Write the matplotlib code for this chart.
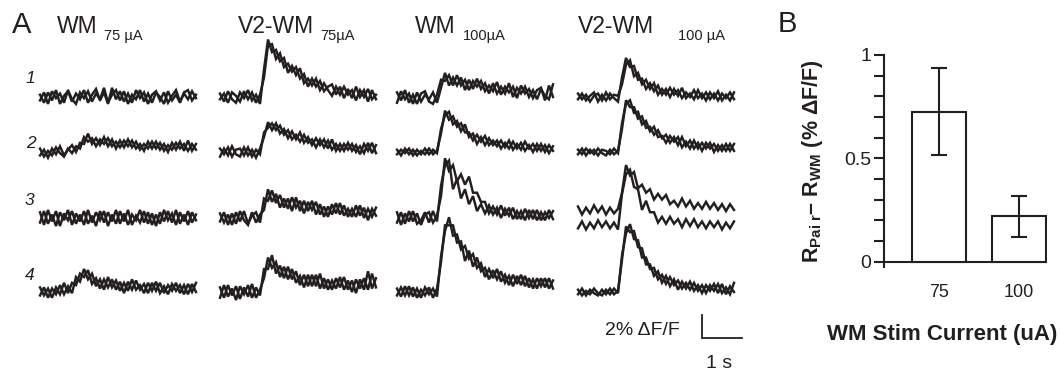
import numpy as np
import matplotlib
matplotlib.use("Agg")
import matplotlib.pyplot as plt

plt.rcParams['font.family'] = ['Liberation Sans', 'DejaVu Sans']
plt.rcParams['mathtext.fontset'] = 'custom'
plt.rcParams['mathtext.rm'] = 'Liberation Sans'
plt.rcParams['mathtext.bf'] = 'Liberation Sans:bold'
plt.rcParams['mathtext.it'] = 'Liberation Sans:italic'

W, H = 1060, 374
INK = '#231f20'

# ---------------- data (traces in units of 0.1 % dF/F, sampled every 0.1 s) -------------
dt = 0.1
col_titles = ["WM", "V2-WM", "WM", "V2-WM"]
col_subs = ["75 \u00b5A", "75\u00b5A", "100\u00b5A", "100 \u00b5A"]
row_labels = ["1", "2", "3", "4"]

r1c1_a = [2,-5,4,-3,6,-6,1,5,-4,3,-2,6,-5,2,7,-3,4,-6,8,-2,5,-4,3,-5,6,-1,4,-6,2,5,-3,4,-5,1,6,-4,3,-2,5,-1]
r1c1_b = [-3,4,-6,5,-1,3,-5,6,-2,-6,4,-1,5,-4,3,-2,8,-5,2,6,-3,5,-6,2,-2,6,-4,3,-5,4,0,-6,5,-3,2,-5,4,6,-3,2]
r1c2_a = [3,-4,5,-2,-5,4,-1,6,-3,2,-6,24,50,39,41,31,34,21,27,19,25,12,16,10,16,6,12,6,1,9,2,9,2,6,-3,6,0,7,-2,2]
r1c2_b = [-2,3,-5,4,1,-4,5,-2,4,-5,2,17,45,46,33,38,26,29,22,26,16,20,9,16,9,14,5,9,11,2,9,-1,7,-1,9,0,6,-4,6,-2]
r1c3_a = [4,-3,6,-5,2,-6,3,5,-4,-6,2,15,14,19,10,19,10,15,6,14,9,14,5,10,5,13,2,9,4,9,-1,10,3,7,-1,6,8,-3,10,0]
r1c3_b = [-5,5,-2,3,-6,4,-4,2,-2,4,-5,8,21,10,17,10,17,6,15,7,16,7,12,3,12,3,9,3,12,0,8,3,9,0,6,-2,7,1,-2,11]
r1c4_a = [-2,3,-3,1,4,-4,2,-3,3,-1,-4,17,34,26,27,15,16,7,12,5,10,2,7,0,7,1,8,-1,3,-2,6,-1,4,-2,3,-3,3,-1,4,-2]
r1c4_b = [3,-2,2,-4,1,3,-3,4,-2,2,1,11,28,32,18,21,11,15,7,12,2,7,2,8,2,6,-1,4,0,6,-1,3,-3,4,-1,5,-3,2,-3,4]

r2c1_a = [3,-4,1,-3,4,-1,-4,3,-1,5,3,13,9,12,5,11,7,12,5,9,4,10,5,10,3,7,1,9,3,9,2,7,0,8,2,9,1,10,1,7]
r2c1_b = [-3,2,-5,3,-2,5,-3,2,6,0,8,7,16,7,12,6,13,5,11,3,10,4,11,4,9,2,7,3,9,3,8,1,6,2,8,3,7,1,7,2]
r2c2_a = [-4,3,-3,5,-2,-4,4,-3,2,-5,3,13,26,19,25,16,20,12,18,11,17,8,13,6,12,6,11,3,11,1,7,1,8,1,6,-2,7,1,8,-1]
r2c2_b = [3,-2,4,-4,2,3,-3,4,-4,2,-2,17,21,25,19,23,15,19,11,15,9,15,8,11,4,11,4,10,2,7,1,7,2,7,0,5,-1,8,-1,6]
r2c3_a = [2,-3,3,-2,2,-3,1,-2,3,-2,1,16,36,28,31,22,25,17,17,10,15,9,14,6,10,5,10,4,10,2,7,2,9,3,7,1,7,0,6,1]
r2c3_b = [-2,2,-1,3,-3,2,-2,3,-2,2,-1,20,32,35,24,27,18,24,13,16,7,13,6,12,6,10,3,8,3,9,3,8,1,6,0,7,1,6,-1,5]
r2c4_a = [-2,3,-3,2,-2,3,-1,-3,2,-2,1,20,45,39,39,29,31,21,22,15,19,12,15,8,13,6,13,5,10,3,8,1,8,3,7,1,6,1,7,1]
r2c4_b = [2,-2,3,-1,2,-3,2,1,-2,3,-1,25,42,45,34,35,24,27,18,22,13,14,8,14,9,13,4,9,3,10,3,8,3,8,0,6,1,7,1,7]

r3c1_a = [5,-6,7,-3,6,-7,4,-2,6,-5,3,-6,7,-4,5,-2,6,-7,3,-5,6,-3,7,-6,2,-4,6,-5,4,-7,5,-3,6,-4,7,-5,3,-6,5,-2]
r3c1_b = [-4,6,-5,3,-7,5,-2,7,-6,4,-3,6,-5,2,-7,6,-4,5,-3,7,-5,4,-6,3,-2,7,-4,5,-6,3,-5,7,-2,4,-6,5,-3,6,-4,3]
r3c2_a = [-3,5,-6,4,-5,6,-2,-6,5,-4,3,7,25,14,21,9,17,8,18,9,15,4,14,7,14,3,10,1,12,4,13,2,8,1,11,2,9,-2,8,2]
r3c2_b = [4,-4,3,-6,5,-3,6,-5,2,5,-4,17,15,24,13,20,9,17,6,18,6,15,6,15,3,12,1,10,3,13,3,11,1,8,1,11,0,8,1,9]
r3c3_a = [5,-6,4,-3,6,-5,-2,5,-4,6,-3,28,46,50,25,34,17,25,12,19,6,12,4,11,3,9,0,8,2,9,-1,6,-2,7,-1,7,-2,5,0,6]
r3c3_b = [-4,5,-5,6,-3,4,-6,3,5,-4,2,19,52,41,46,32,38,29,36,22,22,14,14,4,10,3,11,2,9,-1,6,-1,8,0,7,-2,5,-2,7,-1]
r3c4_a = [10,3,9,4,11,5,10,3,9,4,8,22,46,37,40,26,29,22,25,16,21,16,20,12,15,10,17,10,15,8,13,8,14,8,13,7,12,6,12,7]
r3c4_b = [-9,-3,-10,-4,-9,-2,-8,-3,-9,-4,-10,21,38,42,27,25,7,15,5,5,-4,1,-5,1,-5,-1,-8,-1,-7,-1,-8,-3,-9,-3,-8,-3,-10,-4,-9,-3]

r4c1_a = [-3,4,-5,3,-2,6,-2,5,-1,13,9,20,11,16,5,11,2,13,4,10,1,8,1,11,2,6,-1,8,1,9,-1,5,-2,7,1,6,-2,7,0,8]
r4c1_b = [4,-3,3,-5,4,-2,8,-1,8,6,16,13,19,7,12,3,11,4,11,2,9,-1,9,2,10,2,7,-1,8,1,8,-1,6,1,8,-1,6,-2,7,0]
r4c2_a = [-5,6,-4,3,-7,5,-2,6,-5,4,-3,20,20,32,16,23,12,22,11,18,6,15,5,15,5,16,3,11,2,12,4,13,2,10,-1,11,2,18,3,12]
r4c2_b = [4,-5,6,-3,5,-6,4,-4,7,-5,2,12,30,21,26,13,22,11,20,8,14,4,15,5,15,3,12,2,10,3,13,2,10,0,11,3,12,2,16,4]
r4c3_a = [3,-4,5,-3,4,-5,2,-3,4,-5,3,26,58,58,58,43,44,27,36,22,30,18,21,11,19,11,18,8,14,5,14,6,14,4,11,3,12,4,12,3]
r4c3_b = [-3,4,-3,5,-4,3,-5,4,-2,3,-4,31,53,65,49,50,37,40,29,33,21,25,13,20,12,20,9,15,6,15,7,15,5,12,3,12,5,12,3,10]
r4c4_a = [-2,3,-3,2,-1,-3,2,-2,3,-2,1,28,57,52,53,39,38,24,24,14,18,8,14,5,11,2,9,3,9,1,6,-1,6,1,7,-1,7,-2,5,0]
r4c4_b = [2,-3,1,-2,3,-1,-3,2,-2,3,-1,32,51,59,46,45,30,30,20,21,11,15,7,13,6,10,3,8,2,8,1,6,-1,6,1,7,-1,4,-2,8]

traces = [
    [(r1c1_a, r1c1_b), (r1c2_a, r1c2_b), (r1c3_a, r1c3_b), (r1c4_a, r1c4_b)],
    [(r2c1_a, r2c1_b), (r2c2_a, r2c2_b), (r2c3_a, r2c3_b), (r2c4_a, r2c4_b)],
    [(r3c1_a, r3c1_b), (r3c2_a, r3c2_b), (r3c3_a, r3c3_b), (r3c4_a, r3c4_b)],
    [(r4c1_a, r4c1_b), (r4c2_a, r4c2_b), (r4c3_a, r4c3_b), (r4c4_a, r4c4_b)],
]

# Panel B
bar_labels = ["75", "100"]
bar_means = [0.725, 0.22]
bar_err_lo = [0.517, 0.12]
bar_err_hi = [0.935, 0.32]

# ---------------- layout ----------------
PX_PER_S = 40.0      # 1 s  -> 40 px
PX_PER_PCT = 11.5    # 1 %  -> 11.5 px
col_x0 = [40, 220, 397, 578]          # px, left edge of each column
row_y0 = [97, 152, 218, 292]          # px, baseline of each row

fig = plt.figure(figsize=(W / 100, H / 100), dpi=100)

axA = fig.add_axes([0, 0, 1, 1])
axA.set_xlim(0, W / PX_PER_S)
axA.set_ylim(-H / PX_PER_PCT, 0)
axA.axis('off')

for r in range(4):
    for c in range(4):
        for tr in traces[r][c]:
            v = np.asarray(tr, float) / 10.0
            t = np.arange(len(v)) * dt
            axA.plot(t + col_x0[c] / PX_PER_S, v - row_y0[r] / PX_PER_PCT,
                     color=INK, lw=1.75, solid_joinstyle='miter')

# scale bar: 2 % vertical, 1 s horizontal
sb_x, sb_y = 702 / PX_PER_S, -338 / PX_PER_PCT
axA.plot([sb_x, sb_x, sb_x + 1.0], [sb_y + 2.0, sb_y, sb_y], color=INK, lw=1.3,
         solid_joinstyle='miter')

def ftext(x, y, s, **kw):
    fig.text(x / W, 1 - y / H, s, color=INK, **kw)

ftext(680, 335, "2% \u0394F/F", fontsize=14, ha='right', va='baseline')
ftext(719, 368, "1 s", fontsize=14, ha='center', va='baseline')

# column titles
title_x = [57, 238, 415, 578]
sub_x = [104, 320, 463, 678]
for c in range(4):
    ftext(title_x[c], 33, col_titles[c], fontsize=16.5, ha='left', va='baseline')
    ftext(sub_x[c], 40, col_subs[c], fontsize=10.5, ha='left', va='baseline')

# row labels
row_lab_xy = [(30, 83), (31, 148), (29, 205), (30, 280)]
for i, lab in enumerate(row_labels):
    ftext(row_lab_xy[i][0], row_lab_xy[i][1], lab, fontsize=12.5,
          style='italic', ha='center', va='baseline')

ftext(22, 33, "A", fontsize=21, ha='center', va='baseline')
ftext(787, 32, "B", fontsize=21, ha='center', va='baseline')

# ---------------- Panel B ----------------
left, right, top, bottom = 884, 1047, 55, 267
axB = fig.add_axes([left / W, 1 - bottom / H, (right - left) / W, (bottom - top) / H])
xpos = np.arange(len(bar_means))
axB.bar(xpos, bar_means, width=0.67, color='white', edgecolor=INK, linewidth=1.5, zorder=2)
yerr = [np.array(bar_means) - np.array(bar_err_lo), np.array(bar_err_hi) - np.array(bar_means)]
axB.errorbar(xpos, bar_means, yerr=yerr, fmt='none', ecolor=INK, elinewidth=1.5,
             capsize=6, capthick=1.5, zorder=3)
axB.set_xlim(-0.69, 1.348)
axB.set_ylim(-0.025, 1.0)
axB.axhline(0, color=INK, lw=1.5, zorder=1)
for s in ['top', 'right', 'bottom']:
    axB.spines[s].set_visible(False)
axB.spines['left'].set_linewidth(1.5)
axB.spines['left'].set_color(INK)
axB.set_yticks([0, 0.5, 1])
axB.set_yticklabels(["0", "0.5", "1"])
axB.set_yticks(np.arange(0.1, 1.0, 0.1), minor=True)
axB.tick_params(axis='y', which='both', length=7, width=1.5, color=INK,
                labelsize=14, labelcolor=INK, pad=2)
axB.set_xticks(xpos)
axB.set_xticklabels(bar_labels)
axB.tick_params(axis='x', length=0, labelsize=13, labelcolor=INK, pad=12)
axB.set_xlabel("WM Stim Current (uA)", fontsize=16, fontweight='bold', color=INK)
ylab = "R$_{\\mathbf{Pai\\ r}}$\u2013 R$_{\\mathbf{WM}}$ (% \u0394F/F)"
axB.set_ylabel(ylab, fontsize=15.5, fontweight='bold', color=INK)
axB.xaxis.set_label_coords(0.36, -0.27)
axB.yaxis.set_label_coords(-0.36, 0.5)

fig.savefig("out.png", dpi=100)
